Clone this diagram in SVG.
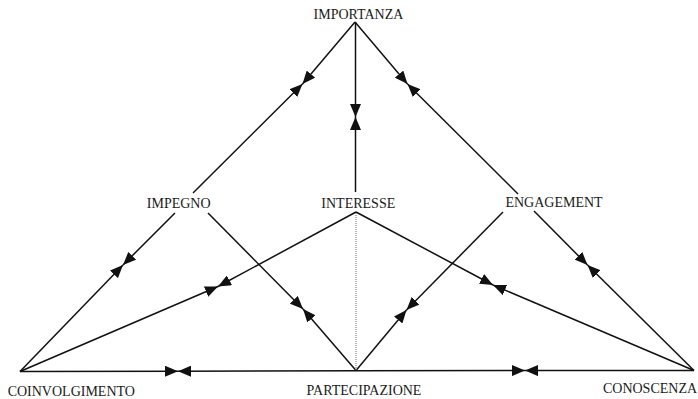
<svg xmlns="http://www.w3.org/2000/svg" width="698" height="399" viewBox="0 0 698 399">
<style>
.lbl{font-family:"Liberation Serif","Times New Roman",serif;font-size:14px;fill:#1a1a1a;text-anchor:middle}
.e{stroke:#111;stroke-width:1.5;fill:none;marker-end:url(#ah)}
.dot{stroke:#777;stroke-width:1;stroke-dasharray:1 1;fill:none}
</style>
<defs>
<marker id="ah" markerUnits="userSpaceOnUse" markerWidth="13" markerHeight="11" refX="13" refY="5.5" orient="auto">
<path d="M0,0 L13,5.5 L0,11 z" fill="#111"/>
</marker>
</defs>
<rect width="698" height="399" fill="#fff"/>
<g id="connectors">
<line class="e" x1="355" y1="22" x2="302.5" y2="84"/>
<line class="e" x1="193" y1="193" x2="302.5" y2="84"/>
<line class="e" x1="175" y1="213" x2="123" y2="265"/>
<line class="e" x1="20" y1="371.5" x2="123" y2="265"/>
<line class="e" x1="355" y1="22" x2="407.5" y2="84"/>
<line class="e" x1="518" y1="194" x2="407.5" y2="84"/>
<line class="e" x1="534" y1="211" x2="587.5" y2="265"/>
<line class="e" x1="694" y1="370.5" x2="587.5" y2="265"/>
<line class="e" x1="355.5" y1="22" x2="355.5" y2="117"/>
<line class="e" x1="355.5" y1="192" x2="355.5" y2="117"/>
<line class="e" x1="356" y1="212" x2="218" y2="286.5"/>
<line class="e" x1="20" y1="371.5" x2="218" y2="286.5"/>
<line class="e" x1="356" y1="212" x2="493" y2="285"/>
<line class="e" x1="694" y1="370.5" x2="493" y2="285"/>
<line class="e" x1="208" y1="213" x2="303" y2="309"/>
<line class="e" x1="356" y1="370.5" x2="303" y2="309"/>
<line class="e" x1="503" y1="212" x2="406.5" y2="310"/>
<line class="e" x1="356" y1="370.5" x2="406.5" y2="310"/>
<line class="dot" x1="356" y1="213" x2="356" y2="370"/>
<line class="e" x1="20" y1="371.5" x2="178" y2="371.2"/>
<line class="e" x1="356" y1="370.8" x2="178" y2="371.2"/>
<line class="e" x1="356" y1="370.8" x2="525" y2="370.6"/>
<line class="e" x1="694" y1="370.5" x2="525" y2="370.6"/>
</g>
<g id="importanza"><text class="lbl" x="358.5" y="18.5">IMPORTANZA</text></g>
<g id="impegno"><text class="lbl" x="178.7" y="208">IMPEGNO</text></g>
<g id="interesse"><text class="lbl" x="358.3" y="208">INTERESSE</text></g>
<g id="engagement"><text class="lbl" x="554" y="207">ENGAGEMENT</text></g>
<g id="coinvolgimento"><text class="lbl" x="71.3" y="395.5">COINVOLGIMENTO</text></g>
<g id="partecipazione"><text class="lbl" x="364" y="395">PARTECIPAZIONE</text></g>
<g id="conoscenza"><text class="lbl" x="650" y="393.3">CONOSCENZA</text></g>
</svg>
